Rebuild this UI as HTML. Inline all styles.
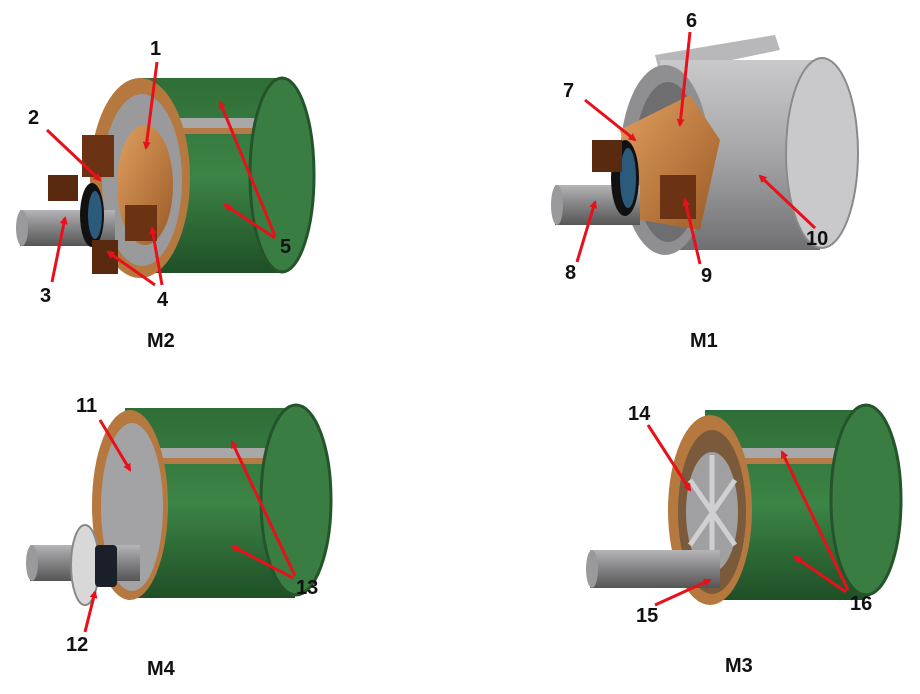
<!DOCTYPE html>
<html><head><meta charset="utf-8"><style>
html,body{margin:0;padding:0;background:#fff;}
svg{display:block;}
text{font-family:"Liberation Sans",Arial,sans-serif;font-weight:bold;font-size:20px;fill:#111;}
</style></head><body>
<svg width="920" height="694" viewBox="0 0 920 694" xmlns="http://www.w3.org/2000/svg">
<defs>
<linearGradient id="gr" x1="0" y1="0" x2="0" y2="1"><stop offset="0" stop-color="#2f6e37"/><stop offset="0.5" stop-color="#3c8446"/><stop offset="1" stop-color="#1f4f26"/></linearGradient>
<linearGradient id="gy" x1="0" y1="0" x2="0" y2="1"><stop offset="0" stop-color="#c9c9cb"/><stop offset="0.5" stop-color="#a6a6a8"/><stop offset="1" stop-color="#707072"/></linearGradient>
<linearGradient id="sh" x1="0" y1="0" x2="0" y2="1"><stop offset="0" stop-color="#b5b5b7"/><stop offset="0.4" stop-color="#8c8c8e"/><stop offset="1" stop-color="#555"/></linearGradient>
<linearGradient id="cu" x1="0" y1="0" x2="1" y2="1"><stop offset="0" stop-color="#e0a060"/><stop offset="1" stop-color="#9a5a25"/></linearGradient>
<marker id="ah" markerWidth="8" markerHeight="8" refX="6" refY="4" orient="auto" markerUnits="userSpaceOnUse"><path d="M0,0 L8,4 L0,8 z" fill="#e8101a"/></marker>
</defs>

<!-- M2 -->
<g>
<rect x="140" y="78" width="140" height="195" fill="url(#gr)"/>
<rect x="140" y="118" width="140" height="10" fill="#a8a8a8"/>
<rect x="140" y="128" width="140" height="6" fill="#b57a45"/>
<ellipse cx="282" cy="175" rx="32" ry="97" fill="#3a7d42" stroke="#24552a" stroke-width="3"/>
<ellipse cx="140" cy="178" rx="50" ry="100" fill="#b5783f"/>
<ellipse cx="142" cy="180" rx="40" ry="86" fill="#9a9a9c"/>
<ellipse cx="145" cy="185" rx="28" ry="60" fill="url(#cu)"/>
<rect x="20" y="210" width="95" height="36" fill="url(#sh)"/>
<ellipse cx="22" cy="228" rx="6" ry="18" fill="#9a9a9c"/>
<ellipse cx="92" cy="215" rx="12" ry="32" fill="#111"/>
<ellipse cx="95" cy="215" rx="7" ry="24" fill="#2c5a7a"/>
<rect x="82" y="135" width="32" height="42" fill="#6b3214"/>
<rect x="48" y="175" width="30" height="26" fill="#5a2a10"/>
<rect x="125" y="205" width="32" height="36" fill="#6b3214"/>
<rect x="92" y="240" width="26" height="34" fill="#5a2a10"/>
</g>

<!-- M1 -->
<g>
<path d="M655,55 L775,35 L780,50 L660,75 Z" fill="#b8b8ba"/>
<rect x="660" y="60" width="160" height="190" fill="url(#gy)"/>
<ellipse cx="822" cy="153" rx="36" ry="95" fill="#c9c9cb" stroke="#8a8a8c" stroke-width="2"/>
<ellipse cx="665" cy="160" rx="45" ry="95" fill="#8f8f91"/>
<ellipse cx="668" cy="162" rx="34" ry="80" fill="#6e6e70"/>
<path d="M620,130 L690,95 L720,140 L700,230 L640,220 Z" fill="url(#cu)"/>
<rect x="555" y="185" width="85" height="40" fill="url(#sh)"/>
<ellipse cx="557" cy="205" rx="6" ry="20" fill="#9a9a9c"/>
<ellipse cx="625" cy="178" rx="14" ry="38" fill="#111"/>
<ellipse cx="628" cy="178" rx="8" ry="30" fill="#2c5a7a"/>
<rect x="592" y="140" width="30" height="32" fill="#5a2a10"/>
<rect x="660" y="175" width="36" height="44" fill="#6b3214"/>
</g>

<!-- M4 -->
<g>
<rect x="125" y="408" width="170" height="190" fill="url(#gr)"/>
<rect x="125" y="448" width="170" height="10" fill="#a8a8a8"/>
<rect x="125" y="458" width="170" height="6" fill="#b57a45"/>
<ellipse cx="296" cy="500" rx="35" ry="95" fill="#3a7d42" stroke="#24552a" stroke-width="3"/>
<ellipse cx="130" cy="505" rx="38" ry="95" fill="#b5783f"/>
<ellipse cx="132" cy="507" rx="31" ry="84" fill="#a3a3a5"/>
<rect x="30" y="545" width="110" height="36" fill="url(#sh)"/>
<ellipse cx="32" cy="563" rx="6" ry="18" fill="#9a9a9c"/>
<ellipse cx="85" cy="565" rx="14" ry="40" fill="#d8d8d8" stroke="#888" stroke-width="2"/>
<rect x="95" y="545" width="22" height="42" rx="4" fill="#1a1f2a"/>
</g>

<!-- M3 -->
<g>
<rect x="705" y="410" width="160" height="190" fill="url(#gr)"/>
<rect x="705" y="448" width="160" height="10" fill="#a8a8a8"/>
<rect x="705" y="458" width="160" height="6" fill="#b57a45"/>
<ellipse cx="866" cy="500" rx="35" ry="95" fill="#3a7d42" stroke="#24552a" stroke-width="3"/>
<ellipse cx="710" cy="510" rx="42" ry="95" fill="#b5783f"/>
<ellipse cx="712" cy="512" rx="34" ry="82" fill="#7a5a3a"/>
<ellipse cx="712" cy="512" rx="26" ry="60" fill="#a0a0a2"/>
<g stroke="#d0d0d2" stroke-width="5">
<line x1="712" y1="455" x2="712" y2="570"/><line x1="690" y1="480" x2="735" y2="545"/><line x1="690" y1="545" x2="735" y2="480"/>
</g>
<rect x="590" y="550" width="130" height="38" fill="url(#sh)"/>
<ellipse cx="592" cy="569" rx="6" ry="19" fill="#9a9a9c"/>
</g>

<!-- arrows -->
<g stroke="#e8101a" stroke-width="3" fill="none" marker-end="url(#ah)">
<line x1="157" y1="62" x2="146" y2="148"/>
<line x1="47" y1="130" x2="100" y2="180"/>
<line x1="52" y1="282" x2="65" y2="218"/>
<line x1="155" y1="285" x2="108" y2="252"/>
<line x1="162" y1="285" x2="152" y2="228"/>
<line x1="275" y1="236" x2="220" y2="102"/>
<line x1="275" y1="238" x2="225" y2="205"/>
<line x1="690" y1="32" x2="680" y2="125"/>
<line x1="585" y1="100" x2="635" y2="140"/>
<line x1="577" y1="262" x2="595" y2="202"/>
<line x1="700" y1="264" x2="685" y2="200"/>
<line x1="815" y1="228" x2="760" y2="176"/>
<line x1="100" y1="420" x2="130" y2="470"/>
<line x1="85" y1="632" x2="95" y2="592"/>
<line x1="295" y1="576" x2="232" y2="442"/>
<line x1="293" y1="578" x2="232" y2="546"/>
<line x1="648" y1="425" x2="690" y2="490"/>
<line x1="655" y1="605" x2="710" y2="580"/>
<line x1="848" y1="590" x2="782" y2="452"/>
<line x1="846" y1="592" x2="795" y2="557"/>
</g>

<!-- labels -->
<text x="150" y="55">1</text>
<text x="28" y="124">2</text>
<text x="40" y="302">3</text>
<text x="157" y="306">4</text>
<text x="280" y="253">5</text>
<text x="147" y="347">M2</text>
<text x="686" y="27">6</text>
<text x="563" y="97">7</text>
<text x="565" y="279">8</text>
<text x="701" y="282">9</text>
<text x="806" y="245">10</text>
<text x="690" y="347">M1</text>
<text x="76" y="412">11</text>
<text x="66" y="651">12</text>
<text x="296" y="594">13</text>
<text x="147" y="675">M4</text>
<text x="628" y="420">14</text>
<text x="636" y="622">15</text>
<text x="850" y="610">16</text>
<text x="725" y="672">M3</text>
</svg>
</body></html>
